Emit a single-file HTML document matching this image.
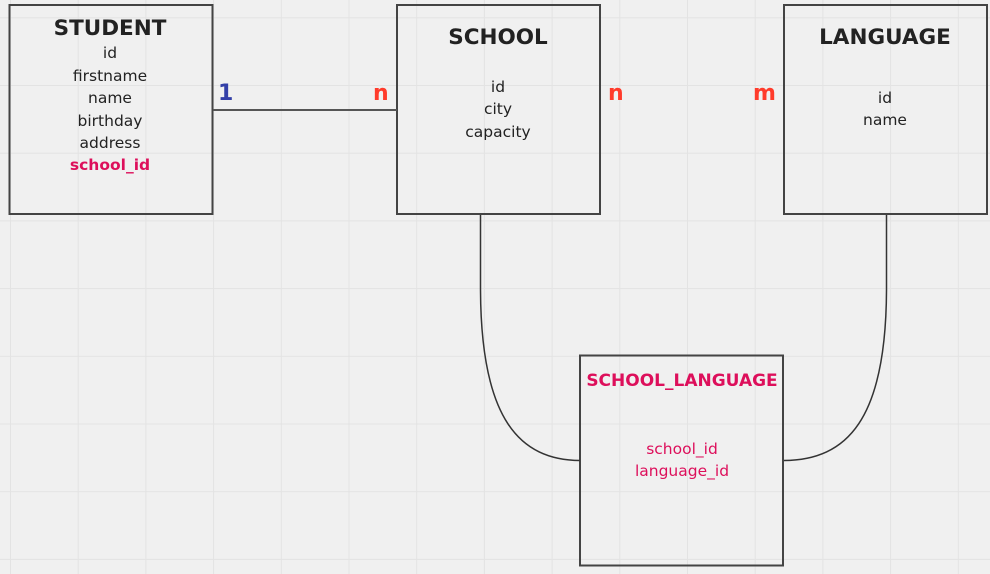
<!DOCTYPE html>
<html><head><meta charset="utf-8"><style>
html,body{margin:0;padding:0;background:#f0f0f0;}
svg{display:block;}
text{font-family:"DejaVu Sans","Liberation Sans",sans-serif;}
</style></head><body>
<svg width="990" height="574" viewBox="0 0 990 574" xmlns="http://www.w3.org/2000/svg">
<defs>
<pattern id="g" x="10" y="17.3" width="67.7" height="67.7" patternUnits="userSpaceOnUse">
<path d="M0.5 0 V67.7 M0 0.5 H67.7" stroke="#e3e3e3" stroke-width="1" fill="none"/>
</pattern>
</defs>
<rect width="990" height="574" fill="#f0f0f0"/>
<rect width="990" height="574" fill="url(#g)"/>
<g fill="none" stroke="#444" stroke-width="2">
<rect x="9.5" y="5" width="203" height="209"/>
<rect x="397" y="5" width="203" height="209"/>
<rect x="784" y="5" width="203" height="209"/>
<rect x="580" y="355.5" width="203" height="210"/>
</g>
<path d="M213 110 H397" stroke="#555" stroke-width="2"/>
<path d="M480.5 215 V290 C481 420 520 460 580 460.5" stroke="#333" stroke-width="1.5" fill="none"/>
<path d="M886.5 215 V290 C886 420 847 460 784 460.5" stroke="#333" stroke-width="1.5" fill="none"/>
<g text-anchor="middle" fill="#222">
<text x="110" y="35" font-size="21.5" font-weight="bold">STUDENT</text>
<text x="110" y="58" font-size="15.5">id</text>
<text x="110" y="81" font-size="15.5">firstname</text>
<text x="110" y="103" font-size="15.5">name</text>
<text x="110" y="126" font-size="15.5">birthday</text>
<text x="110" y="148" font-size="15.5">address</text>
<text x="110" y="170" font-size="15.5" font-weight="bold" fill="#dd0f5b">school_id</text>
<text x="498" y="44" font-size="21.5" font-weight="bold">SCHOOL</text>
<text x="498" y="92" font-size="15.5">id</text>
<text x="498" y="114" font-size="15.5">city</text>
<text x="498" y="137" font-size="15.5">capacity</text>
<text x="885" y="44" font-size="21.5" font-weight="bold">LANGUAGE</text>
<text x="885" y="103" font-size="15.5">id</text>
<text x="885" y="125" font-size="15.5">name</text>
<text x="682" y="386" font-size="17" font-weight="bold" fill="#dd0f5b">SCHOOL_LANGUAGE</text>
<text x="682" y="454" font-size="15.5" fill="#dd0f5b">school_id</text>
<text x="682" y="476" font-size="15.5" fill="#dd0f5b">language_id</text>
</g>
<g font-size="22" font-weight="bold">
<text x="218" y="100" fill="#3340a8">1</text>
<text x="373" y="100" fill="#ff3b2b">n</text>
<text x="608" y="100" fill="#ff3b2b">n</text>
<text x="753" y="100" fill="#ff3b2b">m</text>
</g>
</svg>
</body></html>
